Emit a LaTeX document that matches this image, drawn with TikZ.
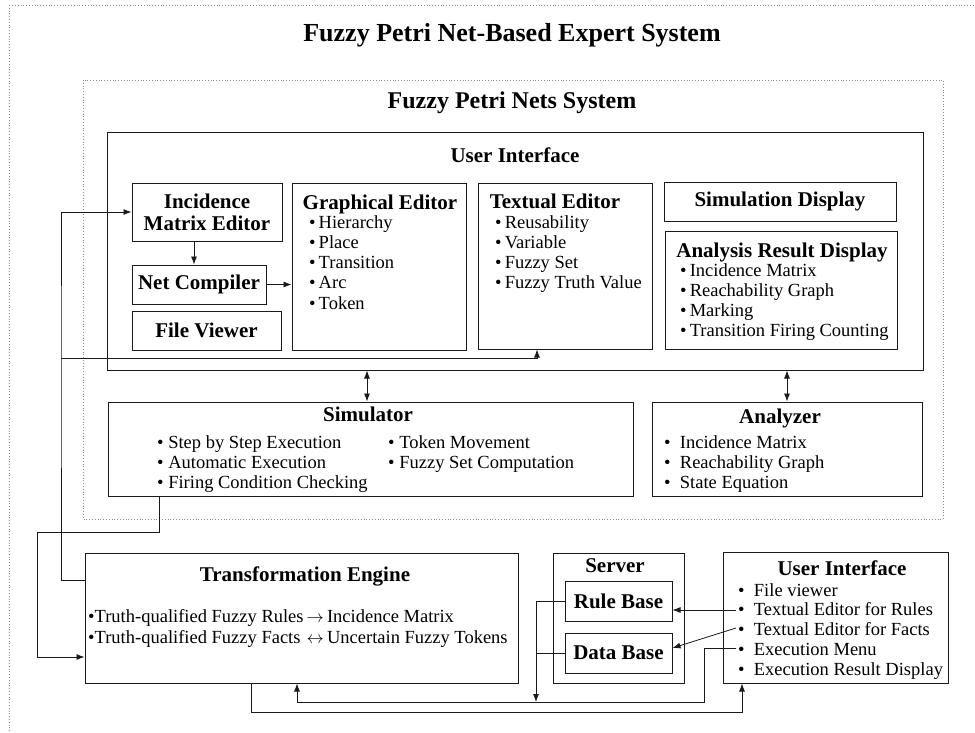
\documentclass[tikz,border=0pt]{standalone}
\usepackage{fontspec}
\setmainfont{Liberation Serif}
\usetikzlibrary{arrows.meta}
\definecolor{framegray}{HTML}{8C8C8C}
\definecolor{ink}{HTML}{1A1A1A}
\tikzset{
  frame/.style={draw=framegray, dotted, line width=0.8pt},
  box/.style={draw=ink, line width=1pt, inner sep=0pt, align=center, font=\bfseries\fontsize{21}{22}\selectfont},
  big/.style={font=\bfseries\fontsize{26}{30}\selectfont, inner sep=0pt},
  mid/.style={font=\bfseries\fontsize{24}{28}\selectfont, inner sep=0pt},
  ttl/.style={font=\bfseries\fontsize{21}{23}\selectfont, inner sep=0pt},
  lst/.style={font=\fontsize{18.5}{20.3}\selectfont, align=left, anchor=north west, inner sep=0pt},
  link/.style={draw=ink, line width=0.8pt, -{Latex[length=8pt,width=6pt]}},
  dlink/.style={draw=ink, line width=0.8pt, {Latex[length=8pt,width=6pt]}-{Latex[length=8pt,width=6pt]}},
  wire/.style={draw=ink, line width=0.8pt},
}
\begin{document}
\begin{tikzpicture}[x=1pt, y=-1pt]
  \useasboundingbox (0,0) rectangle (975,732);
  % outer and inner frames
  \begin{scope}
    \clip (0,0) rectangle (975,732);
    \draw[frame] (9,5) rectangle (995,750);
  \end{scope}
  \draw[frame] (83,80) rectangle (943,519);
  \node[big, anchor=base] (title) at (512,41) {Fuzzy Petri Net-Based Expert System};
  \node[mid, anchor=base] (fpns) at (512,108) {Fuzzy Petri Nets System};

  % user interface of the net system
  \node[box, minimum width=816pt, minimum height=238pt] (uibox) at (515,251) {};
  \node[ttl, anchor=base] (uitl) at (515,162) {User Interface};
  \node[box, minimum width=150pt, minimum height=58pt] (ime) at (207,212) {Incidence\\Matrix Editor};
  \node[box, minimum width=134pt, minimum height=39pt] (netc) at (199,284.5) {Net Compiler};
  \node[box, minimum width=149pt, minimum height=39pt] (filev) at (206.5,330.5) {File Viewer};
  \node[box, minimum width=174pt, minimum height=167pt] (ge) at (379,266.5) {};
  \node[ttl, anchor=base] (getl) at (380,209) {Graphical Editor};
  \node[lst] (gelist) at (309,215) {•\,Hierarchy\\•\,Place\\•\,Transition\\•\,Arc\\•\,Token};
  \node[box, minimum width=174pt, minimum height=166pt] (te) at (565,266) {};
  \node[ttl, anchor=base] (tetl) at (555,208) {Textual Editor};
  \node[lst] (telist) at (495,215) {•\,Reusability\\•\,Variable\\•\,Fuzzy Set\\•\,Fuzzy Truth Value};
  \node[box, minimum width=232pt, minimum height=39pt] (simd) at (780,201.5) {Simulation Display};
  \node[box, minimum width=232pt, minimum height=118pt] (ard) at (781,290) {};
  \node[ttl, anchor=base] (ardtl) at (782,257) {Analysis Result Display};
  \node[lst] (ardlist) at (680,263) {•\,Incidence Matrix\\•\,Reachability Graph\\•\,Marking\\•\,Transition Firing Counting};

  % simulator and analyzer
  \node[box, minimum width=525pt, minimum height=94pt] (sim) at (370.5,449) {};
  \node[ttl, anchor=base] (simtl) at (368,421) {Simulator};
  \node[lst] (simlista) at (157,435) {• Step by Step Execution\\• Automatic Execution\\• Firing Condition Checking};
  \node[lst] (simlistb) at (388,435) {• Token Movement\\• Fuzzy Set Computation};
  \node[box, minimum width=270pt, minimum height=94pt] (ana) at (787,449) {};
  \node[ttl, anchor=base] (anatl) at (780,423) {Analyzer};
  \node[lst] (analist) at (664,435) {•\enspace Incidence Matrix\\•\enspace Reachability Graph\\•\enspace State Equation};

  % lower part
  \node[box, minimum width=433pt, minimum height=130pt] (trans) at (301.5,618) {};
  \node[ttl, anchor=base] (transtl) at (305,581) {Transformation Engine};
  \node[lst, font=\fontsize{18.5}{21.5}\selectfont] (translist) at (88,607) {%
    \begin{tabular}{@{}l@{\,}c@{\,}l@{}}
      •Truth-qualified Fuzzy Rules & $\rightarrow$ & Incidence Matrix\\
      •Truth-qualified Fuzzy Facts & $\leftrightarrow$ & Uncertain Fuzzy Tokens
    \end{tabular}};
  \node[box, minimum width=131pt, minimum height=130pt] (server) at (618.5,618) {};
  \node[ttl, anchor=base] (servertl) at (615,572) {Server};
  \node[box, minimum width=107pt, minimum height=40pt] (rule) at (618.5,601) {Rule Base};
  \node[box, minimum width=107pt, minimum height=40pt] (data) at (618.5,653) {Data Base};
  \node[box, minimum width=225pt, minimum height=131pt] (ui2) at (835.5,617.5) {};
  \node[ttl, anchor=base] (ui2tl) at (842,575) {User Interface};
  \node[lst, font=\fontsize{18.5}{19.8}\selectfont] (ui2list) at (738,583) {•\enspace File viewer\\•\enspace Textual Editor for Rules\\•\enspace Textual Editor for Facts\\•\enspace Execution Menu\\•\enspace Execution Result Display};

  % junctions
  \coordinate (jl) at (61,358);
  \coordinate (jb) at (37,532);
  \coordinate (jr) at (536,702);
  \coordinate (jc) at (704,702);
  \coordinate (crules) at (736,610);
  \coordinate (cfacts) at (736,628);
  \coordinate (cmenu) at (736,648);

  % connectors
  \draw[link] (ime.south -| 194,0) -- (netc.north -| 194,0);
  \draw[link] (netc.east) -- (netc.east -| ge.west);
  \draw[link] ([yshift=38pt]trans.west) -| (jl) |- (ime.west);
  \draw[link] (jl) -| ([xshift=-28pt]te.south);
  \draw[dlink] ([xshift=-3.5pt]sim.north |- uibox.south) -- ([xshift=-3.5pt]sim.north);
  \draw[dlink] (ana.north |- uibox.south) -- (ana.north);
  \draw[link] ([xshift=-211.5pt]sim.south) |- (jb) |- ([yshift=-39pt]trans.west);
  \draw[link] ([xshift=-50.5pt]trans.south) -- ++(0,29) -| ([xshift=-93.5pt]ui2.south);
  \draw[link] (cmenu) -| (jc) -| ([xshift=-4.5pt]trans.south);
  \draw[link] (rule.west) -| (jr);
  \draw[wire] (data.west) -- (data.west -| jr);
  \draw[link] (crules) -- (crules -| rule.east);
  \draw[link] (cfacts) -- ([yshift=5pt]data.east);
\end{tikzpicture}
\end{document}
